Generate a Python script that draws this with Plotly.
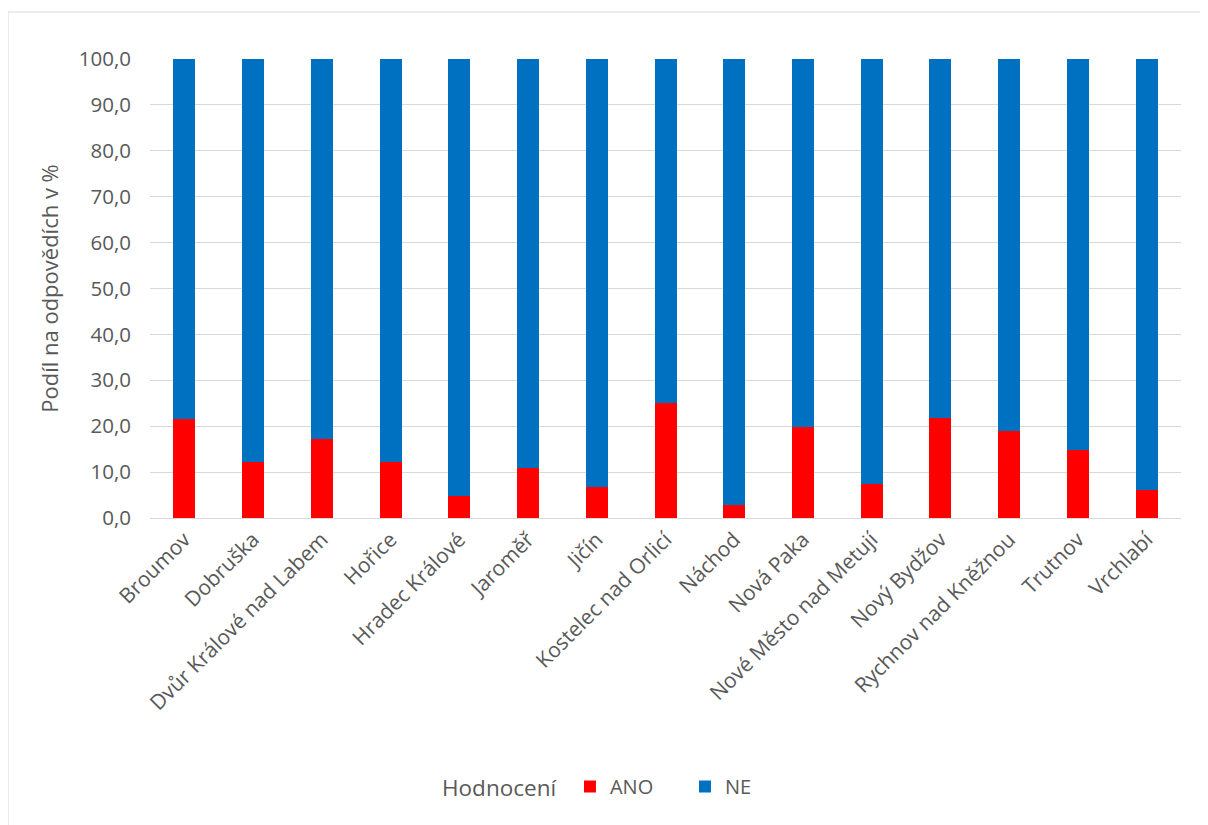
import plotly.graph_objects as go

categories = ["Broumov", "Dobruška", "Dvůr Králové nad Labem", "Hořice", "Hradec Králové",
              "Jaroměř", "Jičín", "Kostelec nad Orlicí", "Náchod", "Nová Paka",
              "Nové Město nad Metují", "Nový Bydžov", "Rychnov nad Kněžnou", "Trutnov", "Vrchlabí"]
ano = [21.5, 12.3, 17.3, 12.3, 4.8, 11.0, 6.7, 25.0, 2.9, 19.9, 7.5, 21.7, 19.0, 14.9, 6.1]
ne = [round(100 - v, 1) for v in ano]
y_ticks = [0, 10, 20, 30, 40, 50, 60, 70, 80, 90, 100]

font_family = "Open Sans, Carlito, Calibri, sans-serif"
gray = "#595959"

fig = go.Figure()
fig.add_trace(go.Bar(x=categories, y=ano, name="ANO", marker=dict(color="#ff0000", line=dict(width=0))))
fig.add_trace(go.Bar(x=categories, y=ne, name="NE", marker=dict(color="#0070c0", line=dict(width=0))))

# page has an 8px offset
OFF = 8
W, H = 1208, 825
l, r, t, b = 150 - OFF, W - (1181 - OFF), 59 - OFF, H - (518 - OFF)
pw = W - l - r
ph = H - t - b

def py(page_y):
    return (518 - page_y) / ph

def px(page_x):
    return (page_x - 150) / pw

fig.update_layout(
    barmode="stack",
    bargap=0.68,
    width=W, height=H,
    margin=dict(l=l, r=r, t=t, b=b, autoexpand=False),
    paper_bgcolor="white", plot_bgcolor="white",
    separators=", ",
    font=dict(family=font_family, color=gray, size=20),
    legend=dict(orientation="h", x=px(440), xanchor="left", y=py(787), yanchor="middle",
                title=dict(text="Hodnocení ", font=dict(size=22.5, color=gray)),
                font=dict(size=20, color=gray), itemwidth=30, traceorder="normal",
                entrywidth=70, entrywidthmode="pixels"),
    xaxis=dict(tickangle=-45, showgrid=False, showline=True, linecolor="#d9d9d9", ticks="",
               tickfont=dict(size=21, color=gray)),
    yaxis=dict(range=[0, 100], tickvals=y_ticks, tickformat=".1f", showgrid=True, gridcolor="#d9d9d9",
               gridwidth=1, zeroline=False, ticks="", tickfont=dict(size=20.5, color=gray),
               ticklabelstandoff=18,
               title=dict(text="Podíl na odpovědích v %", font=dict(size=22, color=gray), standoff=14)),
    shapes=[
        dict(type="line", xref="paper", yref="paper", x0=px(8), x1=px(W + 10),
             y0=py(12), y1=py(12), line=dict(color="#d9d9d9", width=1)),
        dict(type="line", xref="paper", yref="paper", x0=px(8), x1=px(8),
             y0=py(12), y1=py(H + 10), line=dict(color="#d9d9d9", width=1)),
    ],
)

fig.write_html("out.html")
